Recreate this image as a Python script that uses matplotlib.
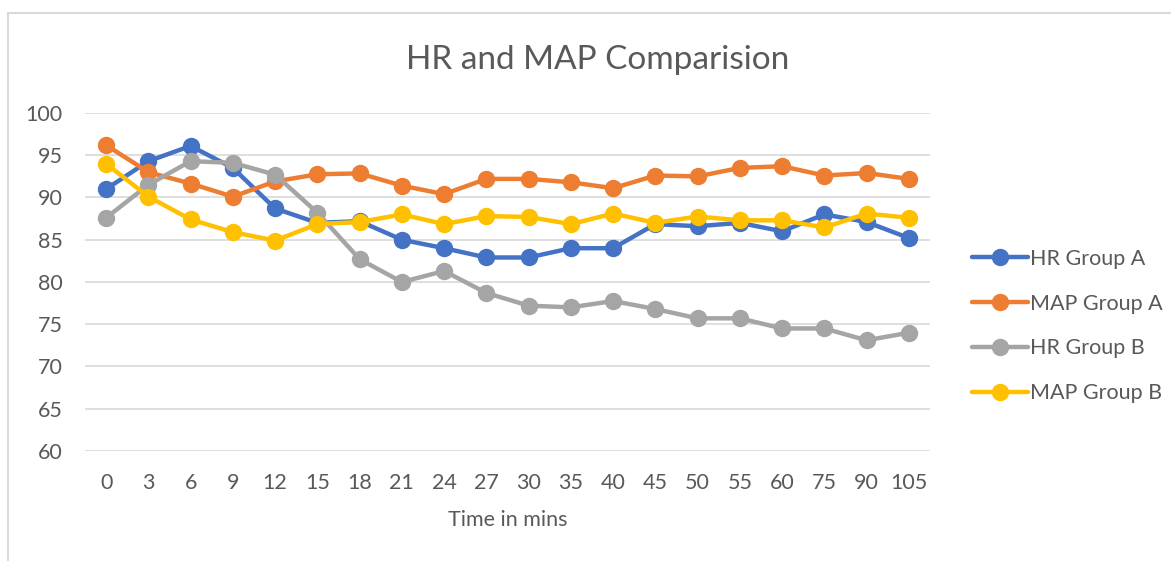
"""HR and MAP comparison line chart (Excel style)."""

import matplotlib

matplotlib.use("Agg")
import matplotlib.pyplot as plt
from matplotlib.patches import Rectangle

time_labels = ["0", "3", "6", "9", "12", "15", "18", "21", "24", "27",
               "30", "35", "40", "45", "50", "55", "60", "75", "90", "105"]
hr_group_a = [91.0, 94.3, 96.1, 93.5, 88.7, 87.0, 87.2, 85.0, 84.0, 82.9,
              82.9, 84.0, 84.0, 86.85, 86.6, 87.0, 86.0, 88.0, 87.1, 85.2]
map_group_a = [96.2, 93.0, 91.65, 90.1, 91.9, 92.75, 92.85, 91.4, 90.4, 92.2,
               92.2, 91.8, 91.1, 92.6, 92.5, 93.5, 93.7, 92.6, 92.9, 92.2]
hr_group_b = [87.6, 91.5, 94.3, 94.1, 92.7, 88.2, 82.7, 80.0, 81.3, 78.7,
              77.2, 77.0, 77.75, 76.8, 75.7, 75.7, 74.5, 74.5, 73.1, 74.0]
map_group_b = [94.0, 90.1, 87.4, 85.9, 84.9, 86.85, 87.1, 88.0, 86.85, 87.8,
               87.7, 86.85, 88.1, 87.0, 87.75, 87.3, 87.3, 86.45, 88.1, 87.6]

series = [
    ("HR Group A", hr_group_a, "#4472C4"),
    ("MAP Group A", map_group_a, "#ED7D31"),
    ("HR Group B", hr_group_b, "#A5A5A5"),
    ("MAP Group B", map_group_b, "#FFC000"),
]

plt.rcParams["font.family"] = ["Lato", "DejaVu Sans"]
text_color = "#595959"
label_size = 15.5

W, H = 1171, 561
figure = plt.figure(figsize=(W / 100, H / 100), dpi=100)
figure.patches.append(Rectangle((8 / W, -0.1), 1.2, 1.1 - 13 / H,
                                transform=figure.transFigure, fill=False,
                                edgecolor="#D9D9D9", linewidth=1.5))

axis = figure.add_axes([85 / W, 1 - 451 / H, (930 - 85) / W, (451 - 113) / H])
x = list(range(len(time_labels)))
for label, values, color in series:
    axis.plot(x, values, color=color, linewidth=3.2, marker="o",
              markersize=11.5, label=label, solid_capstyle="round")

axis.set_xlim(-0.5, len(time_labels) - 0.5)
axis.set_ylim(60, 100)
axis.set_yticks(range(60, 101, 5))
axis.set_xticks(x)
axis.set_xticklabels(time_labels)
axis.yaxis.grid(True, color="#D9D9D9", linewidth=1.2)
axis.set_axisbelow(True)
for spine in axis.spines.values():
    spine.set_visible(False)
axis.tick_params(length=0, labelsize=label_size, colors=text_color)
axis.tick_params(axis="x", pad=16)
axis.tick_params(axis="y", pad=16)
axis.set_xlabel("Time in mins", fontsize=label_size, color=text_color,
                labelpad=12)

figure.text(598 / W, 1 - 60 / H, "HR and MAP Comparision", ha="center",
            va="center", fontsize=24, color=text_color)

axis.legend(loc="center left", bbox_to_anchor=(963 / W, 1 - 326 / H),
            bbox_transform=figure.transFigure, frameon=False,
            fontsize=label_size, labelcolor=text_color, handlelength=2.6,
            handletextpad=0.1, labelspacing=1.15, borderaxespad=0)

figure.savefig("out.png", dpi=100)
